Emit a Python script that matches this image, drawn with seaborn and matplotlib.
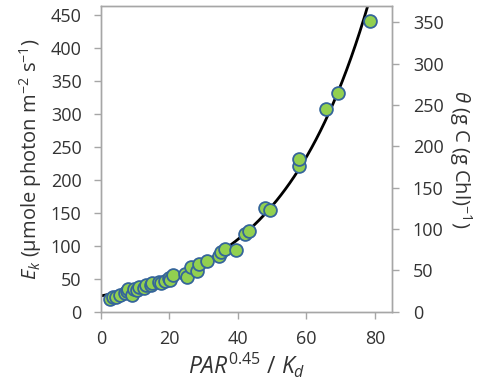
import numpy as np
import pandas as pd
import matplotlib
matplotlib.use("Agg")
import matplotlib.pyplot as plt
import seaborn as sns

# data
par_kd = [2.5, 3.5, 4.5, 5.5, 7.0, 7.5, 8.0, 9.0, 9.5, 10.5,
          11.0, 12.5, 13.0, 14.5, 15.0, 16.8, 17.5, 18.7, 19.9, 20.3,
          21.1, 24.6, 25.0, 26.2, 28.0, 28.6, 30.9, 34.6, 35.1, 36.3,
          39.5, 42.1, 43.2, 48.0, 49.4, 57.8, 57.8, 65.7, 69.1, 78.7]
ek = [20, 22, 23, 25, 28, 31, 34, 25, 35, 33,
      38, 36, 40, 41, 43, 45, 43, 46, 51, 48,
      56, 57, 53, 68, 61, 73, 77, 84, 91, 95,
      94, 118, 123, 157, 154, 221, 232, 307, 332, 441]

# fitted exponential curve Ek = a * exp(b * x)
fit_a = 24.0
fit_b = 0.038

x_ticks = [0, 20, 40, 60, 80]
y_ticks = [0, 50, 100, 150, 200, 250, 300, 350, 400, 450]
theta_ticks = [0, 50, 100, 150, 200, 250, 300, 350]

df = pd.DataFrame({"x": par_kd, "ek": ek})
xx = np.linspace(0, 85, 200)
fit = pd.DataFrame({"x": xx, "ek": fit_a * np.exp(fit_b * xx)})

sns.set_style("white")
plt.rcParams["font.family"] = ["Open Sans", "DejaVu Sans"]
plt.rcParams["mathtext.fontset"] = "custom"
plt.rcParams["mathtext.rm"] = "Open Sans"
plt.rcParams["mathtext.it"] = "Open Sans:italic"

grey = "#a6a6a6"
txt = "#333333"

fig = plt.figure(figsize=(4.92, 3.85), dpi=100)
ax = fig.add_axes([0.2053, 0.1904, 0.5914, 0.7948])

sns.lineplot(data=fit, x="x", y="ek", color="black", lw=2, ax=ax, zorder=2)
sns.scatterplot(data=df, x="x", y="ek", color="#92d050", edgecolor="#35659a",
                linewidth=1.3, s=85, ax=ax, zorder=3)

ax.set_xlim(0, 85)
ax.set_ylim(0, 464)
ax.set_xticks(x_ticks)
ax.set_yticks(y_ticks)
ax.set_xlabel(r"$\it{PAR}^{0.45}$ / $\it{K_d}$", fontsize=16.5, color=txt, labelpad=2)
ax.set_ylabel(r"$\it{E_k}$ (µmole photon m$^{-2}$ s$^{-1}$)", fontsize=14.5,
              color=txt, labelpad=5)

ax2 = ax.twinx()
ax2.set_ylim(0, 370)
ax2.set_yticks(theta_ticks)
ax2.set_ylabel(r"$\it{\theta}$ (g C (g Chl)$^{-1}$)", fontsize=14.5, color=txt,
               rotation=270, labelpad=22)

for a in (ax, ax2):
    for sp in a.spines.values():
        sp.set_color(grey)
        sp.set_linewidth(1)
    a.tick_params(colors=grey, labelcolor=txt, labelsize=13, length=5, width=1,
                  direction="out")
ax.tick_params(axis="x", bottom=True, pad=8)
ax.tick_params(axis="y", left=True, pad=9)
ax2.tick_params(axis="y", right=True, pad=10)

fig.savefig("out.png", dpi=100)
